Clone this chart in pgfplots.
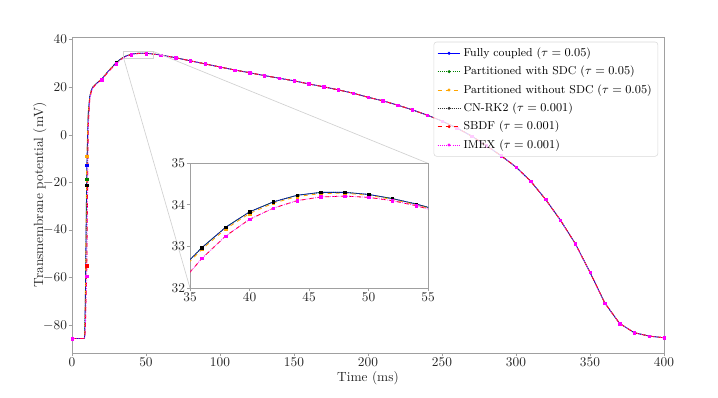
\documentclass[border=0pt]{standalone}
\usepackage{pgfplots}
\usepackage{pgfplotstable}
\pgfplotsset{compat=1.18}

\definecolor{mplblue}{HTML}{0000FF}
\definecolor{mplgreen}{HTML}{008000}
\definecolor{mplorange}{HTML}{FFA500}
\definecolor{mplred}{HTML}{FF0000}
\definecolor{mplmagenta}{HTML}{FF00FF}
\definecolor{spine}{HTML}{A0A0A0}

% transmembrane potential, one column per method
\pgfplotstableread{
t     fc      psdc    pw      cn      sbdf    imex
0     -85.5   -85.5   -85.5   -85.5   -85.5   -85.5
2     -85.5   -85.5   -85.5   -85.5   -85.5   -85.5
4     -85.5   -85.5   -85.5   -85.5   -85.5   -85.5
6     -85.5   -85.5   -85.5   -85.5   -85.5   -85.5
8     -85.5   -85.5   -85.5   -85.5   -85.5   -85.5
8.5   -85.2   -85.2   -85.1   -85.3   -85.4   -85.4
9     -70.0   -72.0   -68.0   -73.0   -82.0   -83.0
10    -12.7   -18.6   -8.9    -21.1   -55.0   -59.3
11    9.5     9.0     10.0    8.7     4.0     3.0
12    16.1    16.0    16.2    16.0    14.8    14.6
13    18.6    18.6    18.7    18.6    18.0    17.9
14    20.0    20.0    20.0    20.0    19.7    19.6
16    21.3    21.3    21.3    21.3    21.1    21.0
18    22.4    22.4    22.4    22.4    22.2    22.2
20    23.4    23.4    23.4    23.4    23.2    23.2
25    27.1    27.1    27.1    27.1    26.8    26.8
30    30.4    30.4    30.35   30.4    30.0    30.0
32    31.45   31.45   31.4    31.45   31.1    31.1
34    32.3    32.3    32.26   32.3    31.98   31.98
35    32.68   32.68   32.64   32.68   32.38   32.38
36    32.97   32.97   32.93   32.97   32.71   32.71
38    33.46   33.46   33.42   33.46   33.25   33.25
40    33.83   33.83   33.79   33.83   33.65   33.65
42    34.07   34.07   34.04   34.07   33.92   33.92
44    34.23   34.23   34.20   34.23   34.10   34.10
46    34.30   34.30   34.27   34.30   34.19   34.19
48    34.30   34.30   34.28   34.30   34.21   34.21
50    34.25   34.25   34.23   34.25   34.18   34.18
52    34.15   34.15   34.13   34.15   34.10   34.10
54    34.02   34.02   34.00   34.02   33.98   33.98
55    33.94   33.94   33.92   33.94   33.90   33.90
56    33.86   33.86   33.84   33.86   33.83   33.83
58    33.71   33.71   33.70   33.71   33.69   33.69
60    33.55   33.55   33.55   33.55   33.54   33.54
70    32.4    32.4    32.4    32.4    32.4    32.4
80    31.1    31.1    31.1    31.1    31.1    31.1
90    29.8    29.8    29.8    29.8    29.8    29.8
100   28.5    28.5    28.5    28.5    28.5    28.5
110   27.25   27.25   27.25   27.25   27.25   27.25
120   26.1    26.1    26.1    26.1    26.1    26.1
130   24.9    24.9    24.9    24.9    24.9    24.9
140   23.8    23.8    23.8    23.8    23.8    23.8
150   22.7    22.7    22.7    22.7    22.7    22.7
160   21.4    21.4    21.4    21.4    21.4    21.4
170   20.2    20.2    20.2    20.2    20.2    20.2
180   18.9    18.9    18.9    18.9    18.9    18.9
190   17.5    17.5    17.5    17.5    17.5    17.5
200   15.8    15.8    15.8    15.8    15.8    15.8
210   14.3    14.3    14.3    14.3    14.3    14.3
220   12.5    12.5    12.5    12.5    12.5    12.5
230   10.5    10.5    10.5    10.5    10.5    10.5
240   8.3     8.3     8.3     8.3     8.3     8.3
250   5.8     5.8     5.8     5.8     5.8     5.8
260   2.9     2.9     2.9     2.9     2.9     2.9
270   -0.5    -0.5    -0.5    -0.5    -0.5    -0.5
280   -4.5    -4.5    -4.5    -4.5    -4.5    -4.5
290   -8.8    -8.8    -8.8    -8.8    -8.8    -8.8
300   -13.5   -13.5   -13.5   -13.5   -13.5   -13.5
310   -19.5   -19.5   -19.5   -19.5   -19.5   -19.5
320   -27.1   -27.1   -27.1   -27.1   -27.1   -27.1
330   -35.8   -35.8   -35.8   -35.8   -35.8   -35.8
340   -45.6   -45.6   -45.6   -45.6   -45.6   -45.6
350   -57.7   -57.7   -57.7   -57.7   -57.7   -57.7
360   -70.6   -70.6   -70.6   -70.6   -70.6   -70.6
370   -79.2   -79.2   -79.2   -79.2   -79.2   -79.2
380   -83.1   -83.1   -83.1   -83.1   -83.1   -83.1
390   -84.5   -84.5   -84.5   -84.5   -84.5   -84.5
400   -85.2   -85.2   -85.2   -85.2   -85.2   -85.2
}\vm

\pgfplotsset{
  apstyle/.style={
    scale only axis,
    axis line style={spine, line width=0.5pt},
    tick style={spine, line width=0.5pt},
    tick align=outside,
    xtick pos=bottom, ytick pos=left,
    major tick length=2.6pt,
    tick label style={font=\normalsize, text=black!85, inner sep=1pt},
    clip=true,
  },
  fcS/.style={mplblue, line width=0.6pt, solid},
  psdcS/.style={mplgreen, line width=0.6pt, densely dotted},
  pwS/.style={mplorange, line width=0.6pt, dashed},
  cnS/.style={black!80, line width=0.5pt, densely dotted},
  sbdfS/.style={mplred, line width=0.6pt, dashed},
  imexS/.style={mplmagenta, line width=0.6pt, densely dotted},
  mk/.style={only marks, mark=square*, mark size=0.95pt, #1,
    mark options={solid, line width=0.3pt}},
  lg/.style={mark=*, mark size=0.8pt, mark options={solid}},
}

\begin{document}
\begin{tikzpicture}
\begin{axis}[
  apstyle, name=main,
  at={(0,0)}, anchor=south west,
  width=444pt, height=237pt,
  xmin=0, xmax=400, ymin=-91.6, ymax=41.1,
  xtick={0,50,...,400}, ytick={-80,-60,...,40},
  xlabel={Time (ms)},
  ylabel={Transmembrane potential (mV)},
  label style={font=\normalsize, text=black!85},
  xlabel style={yshift=1pt},
  ylabel style={yshift=-7pt},
  legend cell align=left,
  legend style={font=\fontsize{8.6}{10}\selectfont, at={(0.99,0.985)}, anchor=north east,
    draw=black!15, rounded corners=2pt, fill=white, fill opacity=0.8,
    text opacity=1, row sep=1.8pt, inner sep=2.5pt},
]
\addlegendimage{fcS, lg}
\addlegendentry{Fully coupled ($\tau = 0.05$)}
\addlegendimage{psdcS, lg}
\addlegendentry{Partitioned with SDC ($\tau = 0.05$)}
\addlegendimage{pwS, lg}
\addlegendentry{Partitioned without SDC ($\tau = 0.05$)}
\addlegendimage{cnS, lg}
\addlegendentry{CN-RK2 ($\tau = 0.001$)}
\addlegendimage{sbdfS, lg}
\addlegendentry{SBDF ($\tau = 0.001$)}
\addlegendimage{imexS, lg}
\addlegendentry{IMEX ($\tau = 0.001$)}

\addplot[fcS, forget plot] table[x=t, y=fc] {\vm};
\addplot[psdcS, forget plot] table[x=t, y=psdc] {\vm};
\addplot[pwS, forget plot] table[x=t, y=pw] {\vm};
\addplot[cnS, forget plot] table[x=t, y=cn] {\vm};
\addplot[sbdfS, forget plot] table[x=t, y=sbdf] {\vm};
\addplot[imexS, forget plot] table[x=t, y=imex] {\vm};

\pgfplotsset{every axis plot/.append style={x filter/.expression={mod(x,10)==0 ? x : nan}}}
\addplot[mk=mplblue, forget plot] table[x=t, y=fc] {\vm};
\addplot[mk=mplgreen, forget plot] table[x=t, y=psdc] {\vm};
\addplot[mk=mplorange, forget plot] table[x=t, y=pw] {\vm};
\addplot[mk=black, forget plot] table[x=t, y=cn] {\vm};
\addplot[mk=mplred, forget plot] table[x=t, y=sbdf] {\vm};
\addplot[mk=mplmagenta, forget plot] table[x=t, y=imex] {\vm};

\coordinate (zA) at (axis cs:35,32);
\coordinate (zB) at (axis cs:55,35);
\draw[black!18, line width=0.5pt] (zA) rectangle (zB);
\end{axis}

\draw[black!18, line width=0.5pt] (zA) -- (88.5pt,48.75pt);
\draw[black!18, line width=0.5pt] (zB) -- (267pt,142.25pt);

\begin{axis}[
  apstyle, name=ins,
  at={(88.5pt,48.75pt)}, anchor=south west,
  width=178.5pt, height=93.5pt,
  axis background/.style={fill=white},
  xmin=35, xmax=55, ymin=32, ymax=35,
  xtick={35,40,...,55}, ytick={32,33,34,35},
]
\addplot[fcS] table[x=t, y=fc] {\vm};
\addplot[psdcS] table[x=t, y=psdc] {\vm};
\addplot[pwS] table[x=t, y=pw] {\vm};
\addplot[cnS] table[x=t, y=cn] {\vm};
\addplot[sbdfS] table[x=t, y=sbdf] {\vm};
\addplot[imexS] table[x=t, y=imex] {\vm};

\pgfplotsset{every axis plot/.append style={x filter/.expression={mod(x,2)==0 ? x : nan}}}
\addplot[mk=mplblue] table[x=t, y=fc] {\vm};
\addplot[mk=mplgreen] table[x=t, y=psdc] {\vm};
\addplot[mk=mplorange] table[x=t, y=pw] {\vm};
\addplot[mk=black] table[x=t, y=cn] {\vm};
\addplot[mk=mplred] table[x=t, y=sbdf] {\vm};
\addplot[mk=mplmagenta] table[x=t, y=imex] {\vm};
\end{axis}

\path (-54pt,-33.75pt) rectangle (484.5pt,264.75pt);
\end{tikzpicture}
\end{document}
